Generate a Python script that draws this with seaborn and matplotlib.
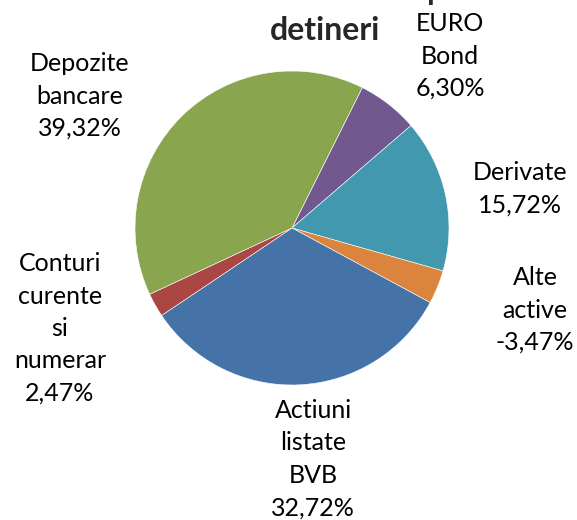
import seaborn as sns
import matplotlib.pyplot as plt

# data (clockwise from the EURO Bond slice)
labels = ['EURO\nBond', 'Derivate', 'Alte\nactive', 'Actiuni\nlistate\nBVB',
          'Conturi\ncurente\nsi\nnumerar', 'Depozite\nbancare']
values = [6.30, 15.72, -3.47, 32.72, 2.47, 39.32]
colors = ['#71588F', '#4198AF', '#DB843D', '#4572A7', '#AA4643', '#89A54E']

# label centres in pixels (x, y of first line)
label_pos = [(450, 23), (520, 172), (535, 277), (313, 410), (60, 263), (80, 63)]

sns.set_theme(style='white')
plt.rcParams['font.family'] = ['Lato', 'DejaVu Sans']

W, H = 577, 520
fig = plt.figure(figsize=(W / 100, H / 100), dpi=100)
ax = fig.add_axes([0, 0, 1, 1])

cx, cy, r = 292, 228, 157
sizes = [abs(v) for v in values]
ax.pie(sizes, colors=sns.color_palette(colors), startangle=63.4, counterclock=False,
       wedgeprops=dict(edgecolor='white', linewidth=0.4))
ax.set_aspect('auto')
ax.set_xlim(-cx / r, (W - cx) / r)
ax.set_ylim(-(H - cy) / r, cy / r)
ax.axis('off')

for lab, v, (px, py) in zip(labels, values, label_pos):
    txt = lab + '\n' + f'{v:.2f}%'.replace('.', ',')
    fig.text(px / W, 1 - (py - 11) / H, txt, ha='center', va='top',
             fontsize=18, linespacing=1.5, color='black')

# title (first line is cut off by the top edge)
fig.text(312 / W, 1.0, 'Structura activului net total pe clase de',
         ha='center', va='baseline', fontsize=22, fontweight='bold')
fig.text(325 / W, 1 - 30 / H, 'detineri', ha='center', va='center',
         fontsize=23, fontweight='bold')

fig.savefig('out.png', dpi=100)
